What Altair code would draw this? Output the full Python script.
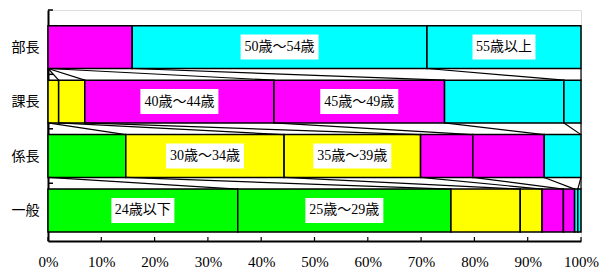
import altair as alt
import pandas as pd

rows = ["部長", "課長", "係長", "一般"]
groups = ["24歳以下", "25歳～29歳", "30歳～34歳", "35歳～39歳",
          "40歳～44歳", "45歳～49歳", "50歳～54歳", "55歳以上"]
colors = ["#00FF00", "#00FF00", "#FFFF00", "#FFFF00",
          "#FF00FF", "#FF00FF", "#00FFFF", "#00FFFF"]
shares = {
    "部長": [0, 0, 0, 0, 0, 15.8, 55.3, 28.9],
    "課長": [0, 0, 2.0, 4.9, 35.5, 32.0, 22.4, 3.2],
    "係長": [0, 14.6, 29.7, 25.6, 9.8, 13.4, 6.9, 0],
    "一般": [35.6, 40.0, 13.0, 4.1, 4.0, 2.1, 0.6, 0.6],
}
labelled = {
    "部長": ["50歳～54歳", "55歳以上"],
    "課長": ["40歳～44歳", "45歳～49歳"],
    "係長": ["30歳～34歳", "35歳～39歳"],
    "一般": ["24歳以下", "25歳～29歳"],
}
x_ticks = list(range(0, 101, 10))

# layout / style
W, H = 533, 231
HALF = 0.393
Y_DOMAIN = [-0.681, 3.56]
FONT = "Liberation Serif, Noto Sans CJK JP"

seg_recs, ends = [], {}
for ri, r in enumerate(rows):
    cum = 0.0
    ends[r] = []
    for gi, g in enumerate(groups):
        v = shares[r][gi]
        s, e = cum, cum + v
        cum = e
        ends[r].append(e)
        if v > 0:
            seg_recs.append(dict(row=r, ri=ri, group=g, gi=gi, start=s, end=e,
                                 mid=(s + e) / 2, lab=g in labelled[r],
                                 short=len(g) <= 5))
segs = pd.DataFrame(seg_recs)

line_recs = []
for ri in range(len(rows) - 1):
    a, b = rows[ri], rows[ri + 1]
    for gi in range(len(groups)):
        line_recs.append(dict(xa=ends[a][gi], xb=ends[b][gi], ya=ri, yb=ri + 1))
lines = pd.DataFrame(line_recs)

xscale = alt.Scale(domain=[0, 100], nice=False, zero=False)
yscale = alt.Scale(domain=Y_DOMAIN, reverse=True, nice=False, zero=False)

xaxis = alt.Axis(values=x_ticks, labelExpr="datum.value + '%'", tickSize=0,
                 labelPadding=13, domainColor="black", domainWidth=2,
                 labelFont=FONT, labelFontSize=15, labelColor="black",
                 grid=False, title=None, labelFlush=False)
yaxis = alt.Axis(values=list(range(len(rows))),
                 labelExpr="%s[datum.value]" % str(rows).replace("'", '"'),
                 tickSize=0, labelPadding=9, domainColor="black", domainWidth=2,
                 labelFont=FONT, labelFontSize=14, labelColor="black",
                 grid=False, title=None)

bars = alt.Chart(segs).transform_calculate(
    y0="datum.ri - %f" % HALF, y1="datum.ri + %f" % HALF
).mark_rect(stroke="black", strokeWidth=1.5).encode(
    x=alt.X("start:Q", scale=xscale, axis=xaxis),
    x2="end:Q",
    y=alt.Y("y0:Q", scale=yscale, axis=yaxis),
    y2="y1:Q",
    color=alt.Color("group:N", scale=alt.Scale(domain=groups, range=colors), legend=None),
)

series_lines = alt.Chart(lines).transform_calculate(
    y0="datum.ya + %f" % HALF, y1="datum.yb - %f" % HALF
).mark_rule(color="black", strokeWidth=1.2).encode(
    x=alt.X("xa:Q", scale=xscale), x2="xb:Q",
    y=alt.Y("y0:Q", scale=yscale), y2="y1:Q",
)

lab_data = alt.Chart(segs).transform_filter("datum.lab")
box_long = lab_data.transform_filter("!datum.short").mark_rect(
    fill="white", width=78, height=25).encode(
    x=alt.X("mid:Q", scale=xscale), y=alt.Y("ri:Q", scale=yscale))
box_short = lab_data.transform_filter("datum.short").mark_rect(
    fill="white", width=63, height=25).encode(
    x=alt.X("mid:Q", scale=xscale), y=alt.Y("ri:Q", scale=yscale))
texts = lab_data.mark_text(font=FONT, fontSize=14, color="black",
                           align="center", baseline="middle").encode(
    x=alt.X("mid:Q", scale=xscale), y=alt.Y("ri:Q", scale=yscale), text="group:N")

tick_df = pd.DataFrame({"t": x_ticks})
xticks = alt.Chart(tick_df).mark_rule(color="black", strokeWidth=1.2).encode(
    x=alt.X("t:Q", scale=xscale), y=alt.value(H), y2=alt.value(H - 4))

yb_df = pd.DataFrame({"b": [Y_DOMAIN[0]] + [i + 0.5 for i in range(len(rows) - 1)]})
yticks = alt.Chart(yb_df).mark_rule(color="black", strokeWidth=1.5).encode(
    y=alt.Y("b:Q", scale=yscale), x=alt.value(0), x2=alt.value(5))

chart = alt.layer(bars, series_lines, box_long, box_short, texts, xticks, yticks).properties(
    width=W, height=H,
    autosize=alt.AutoSizeParams(type="none"),
    padding={"left": 48, "top": 10, "right": 610 - 48 - W, "bottom": 276 - 10 - H},
).configure_view(stroke=None).configure(background="white")

chart.save("out.html", embed_options={"renderer": "svg", "actions": False})
